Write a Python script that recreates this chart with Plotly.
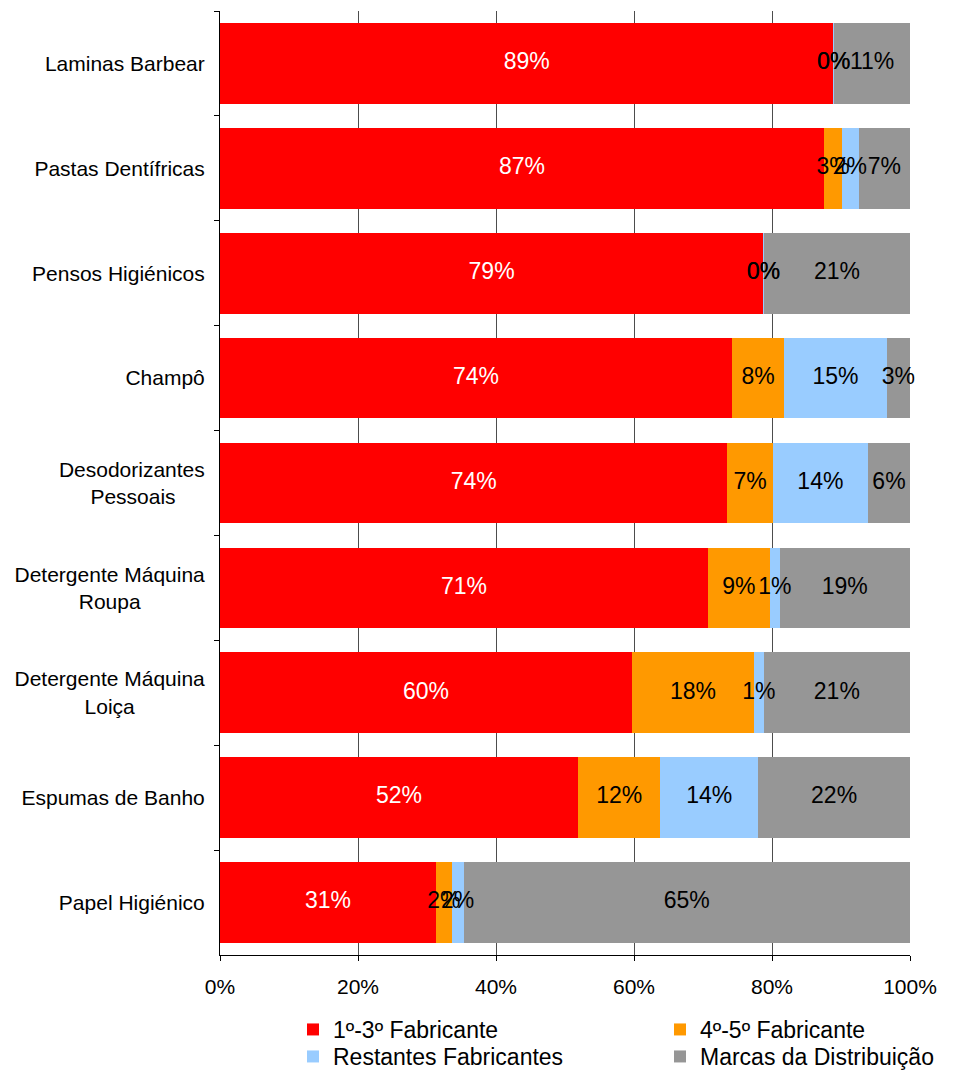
import plotly.graph_objects as go

categories = [
    "Laminas Barbear",
    "Pastas Dentífricas",
    "Pensos Higiénicos",
    "Champô",
    "Desodorizantes<br>Pessoais" + "\u00a0" * 5,
    "Detergente Máquina<br>Roupa" + "\u00a0" * 11,
    "Detergente Máquina<br>Loiça" + "\u00a0" * 12,
    "Espumas de Banho",
    "Papel Higiénico",
]

fab_1_3 = [88.9, 87.2, 78.8, 74.2, 73.6, 70.7, 59.7, 51.9, 31.3]
fab_4_5 = [0.05, 2.6, 0.05, 7.6, 6.6, 9.0, 17.7, 11.9, 2.3]
restantes = [0.05, 2.4, 0.05, 14.8, 13.8, 1.4, 1.4, 14.2, 1.7]
marcas_dist = [11.0, 7.4, 21.2, 3.4, 6.1, 18.9, 21.2, 22.0, 64.7]

series_names = ["1º-3º Fabricante", "4º-5º Fabricante", "Restantes Fabricantes", "Marcas da Distribuição"]
series_values = [fab_1_3, fab_4_5, restantes, marcas_dist]
series_colors = ["#FF0000", "#FF9900", "#99CCFF", "#969696"]
text_colors = ["#FFFFFF", "#000000", "#000000", "#000000"]
legend_ids = ["legend", "legend2", "legend3", "legend4"]

x_ticks = [0, 20, 40, 60, 80, 100]
x_tick_labels = ["0%", "20%", "40%", "60%", "80%", "100%"]

FONT = "Liberation Sans, Arial, sans-serif"

# Page body has an 8px margin: figure is drawn offset by 8px
FIG_W, FIG_H = 947, 1065

fig = go.Figure()
for name, vals, col, lg in zip(series_names, series_values, series_colors, legend_ids):
    fig.add_trace(go.Bar(
        y=categories,
        x=vals,
        name=name,
        orientation="h",
        marker=dict(color=col, line=dict(width=0)),
        legend=lg,
    ))

# data labels on top of all bars, at the (normalised) centre of each segment
totals = [sum(s[i] for s in series_values) for i in range(len(categories))]
cum = [0.0] * len(categories)
for vals, tcol in zip(series_values, text_colors):
    mids = []
    for i, v in enumerate(vals):
        start = cum[i]
        cum[i] += v
        mids.append((start + v / 2) / totals[i] * 100)
    fig.add_trace(go.Scatter(
        x=mids,
        y=categories,
        mode="text",
        text=[f"{v:.0f}%" for v in vals],
        textposition="middle center",
        textfont=dict(color=tcol, size=23, family=FONT),
        showlegend=False,
        hoverinfo="skip",
        cliponaxis=False,
    ))


def legend_box(x_px, y_px):
    return dict(
        xref="container", yref="container",
        x=x_px / FIG_W, y=1 - y_px / FIG_H, xanchor="left", yanchor="top",
        orientation="h",
        font=dict(size=23, family=FONT, color="#000000"),
        bgcolor="rgba(0,0,0,0)", borderwidth=0,
    )


fig.update_layout(
    width=FIG_W,
    height=FIG_H,
    barmode="stack",
    barnorm="percent",
    bargap=0.23,
    plot_bgcolor="white",
    paper_bgcolor="white",
    margin=dict(l=212, r=45, t=3, b=118),
    font=dict(family=FONT, color="#000000"),
    legend=legend_box(285, 1000),
    legend2=legend_box(652, 1000),
    legend3=legend_box(285, 1027),
    legend4=legend_box(652, 1027),
)

fig.update_xaxes(
    range=[0, 100],
    tickvals=x_ticks,
    ticktext=x_tick_labels,
    showgrid=True,
    gridcolor="#4d4d4d",
    gridwidth=1,
    zeroline=False,
    showline=True,
    linecolor="#000000",
    linewidth=1,
    ticks="outside",
    ticklen=5,
    tickcolor="#000000",
    tickfont=dict(size=21, family=FONT, color="#000000"),
    ticklabelstandoff=8,
    automargin=False,
    fixedrange=True,
)
fig.update_yaxes(
    categoryorder="array",
    categoryarray=categories,
    autorange="reversed",
    showline=True,
    linecolor="#000000",
    linewidth=1,
    ticks="outside",
    tickson="boundaries",
    ticklen=5,
    tickcolor="#000000",
    showgrid=False,
    tickfont=dict(size=21, family=FONT, color="#000000"),
    ticklabelstandoff=10,
    automargin=False,
)

fig.write_html("out.html")
